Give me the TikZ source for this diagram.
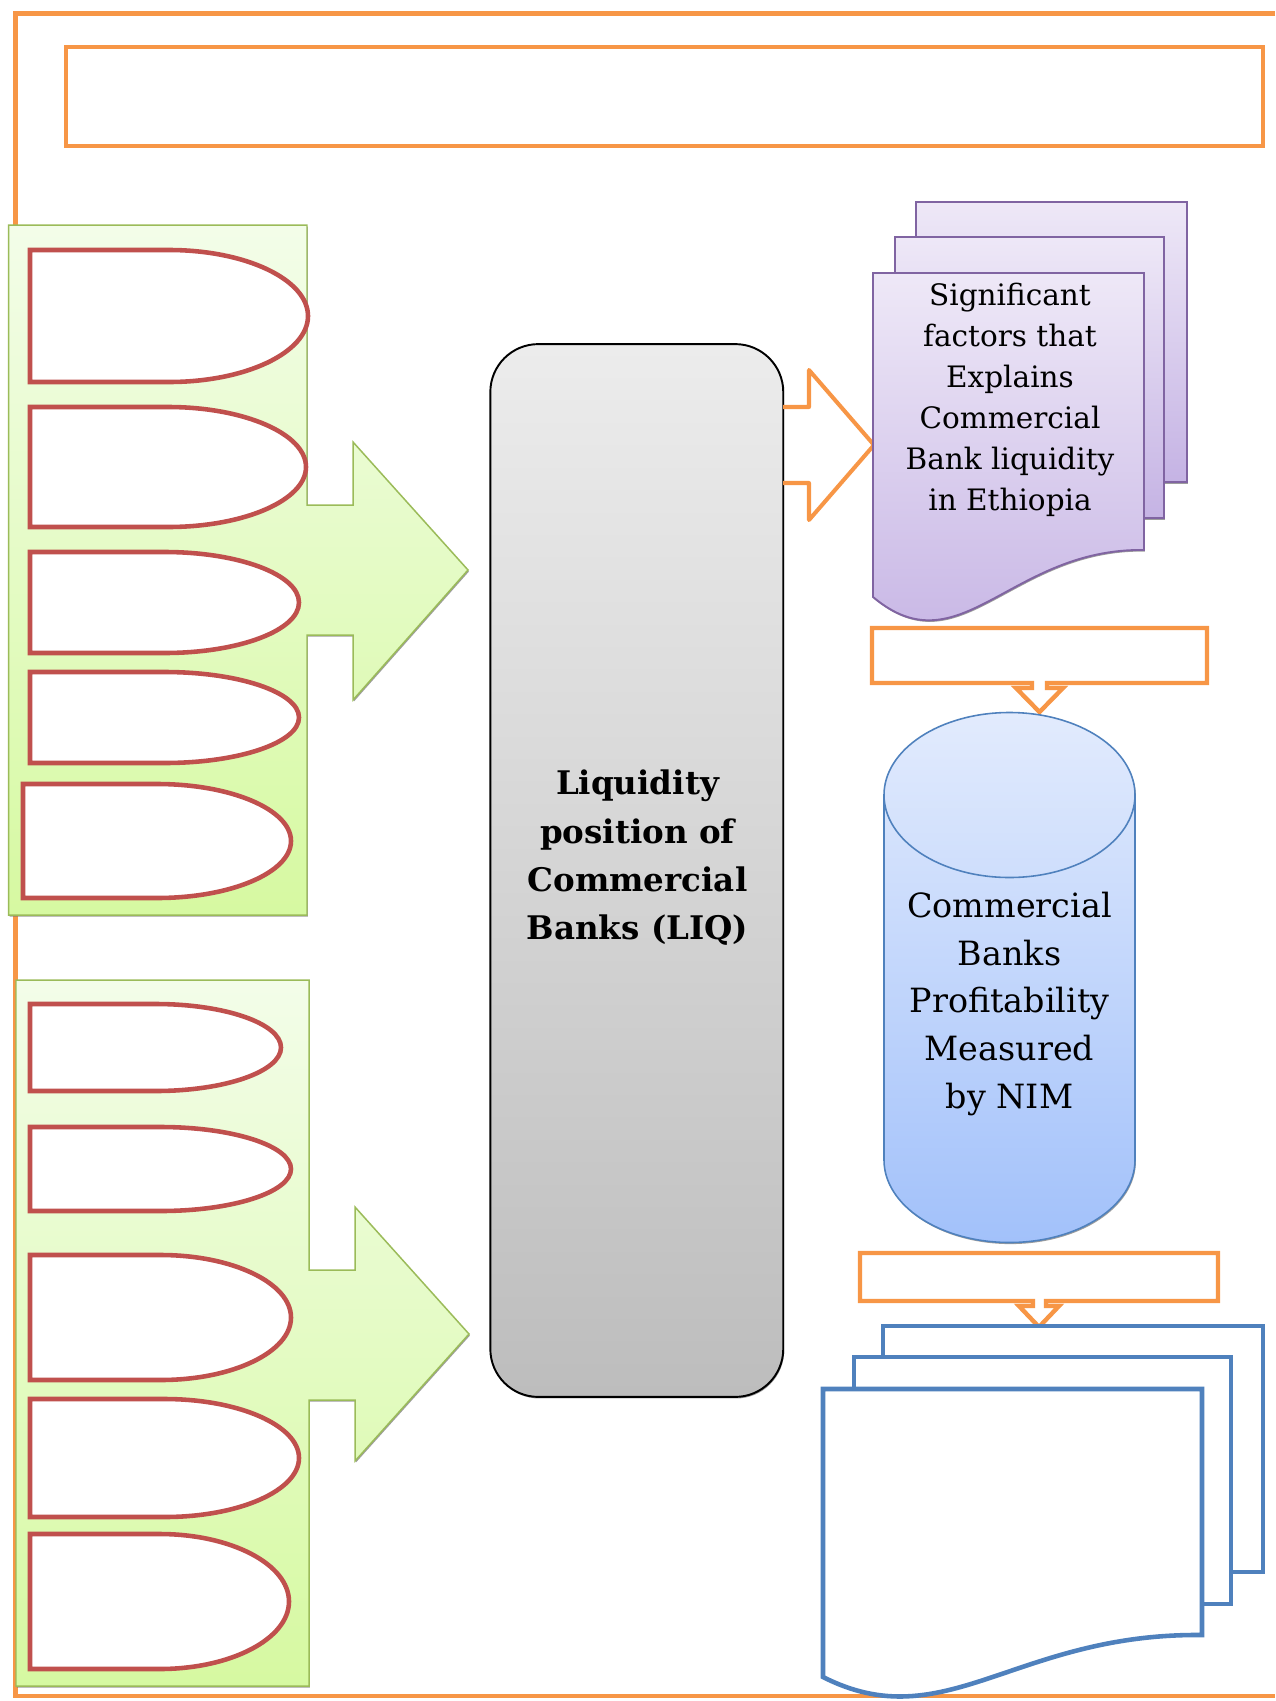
\documentclass[tikz,border=0pt]{standalone}
\usepackage{fontspec}
\setmainfont{DejaVu Serif}
\usetikzlibrary{shadows}

\definecolor{frameorange}{RGB}{247,150,70}
\definecolor{factorred}{RGB}{192,80,77}
\definecolor{panelgreen}{RGB}{155,187,89}
\definecolor{greentop}{RGB}{243,253,233}
\definecolor{greenbot}{RGB}{214,249,161}
\definecolor{docpurple}{RGB}{128,100,162}
\definecolor{purptop}{RGB}{238,232,247}
\definecolor{purpbot}{RGB}{197,179,228}
\definecolor{nimblue}{RGB}{79,129,189}
\definecolor{bluetop}{RGB}{226,235,253}
\definecolor{bluebot}{RGB}{162,193,250}
\definecolor{liqtop}{RGB}{236,236,236}
\definecolor{liqbot}{RGB}{189,189,189}

% one factor slot: straight left half, half-ellipse right end
\newcommand\factorslot[5]{%
  \pgfmathsetmacro\fsxm{(#2+#4)/2}%
  \pgfmathsetmacro\fsym{(#3+#5)/2}%
  \pgfmathsetmacro\fskx{\fsxm+0.5523*(#4-#2)/2}%
  \pgfmathsetmacro\fsky{0.5523*(#5-#3)/2}%
  \draw[slotline] (#2,#3) -- (\fsxm,#3)
     .. controls (\fskx,#3) and (#4,\fsym-\fsky) .. (#4,\fsym)
     .. controls (#4,\fsym+\fsky) and (\fskx,#5) .. (\fsxm,#5)
     -- (#2,#5) -- cycle;
  \coordinate (#1) at (\fsxm,\fsym);
}

\tikzset{
  softshadow/.style={drop shadow={shadow xshift=0.5pt, shadow yshift=-0.9pt,
      fill=black!55, opacity=0.7}},
  frameline/.style={draw=frameorange, line width=2.3pt},
  calloutline/.style={draw=frameorange, fill=white, line width=2.5pt, line join=miter},
  greenpanel/.style={draw=panelgreen, line width=0.85pt, top color=greentop,
      bottom color=greenbot, softshadow},
  slotline/.style={draw=factorred, fill=white, line width=2.6pt},
  liqbox/.style={draw=black, line width=1.1pt, rounded corners=0.96cm,
      top color=liqtop, bottom color=liqbot, minimum width=5.86cm,
      minimum height=21.06cm, inner sep=0pt, softshadow},
  purplesheet/.style={draw=docpurple, line width=1.1pt, top color=purptop,
      bottom color=purpbot, softshadow},
  bluesheet/.style={draw=nimblue, line width=2.6pt, fill=white},
  cylbody/.style={draw=nimblue, line width=0.9pt, top color=bluetop,
      bottom color=bluebot, softshadow},
  blockarrow/.style={draw=frameorange, line width=2.3pt, line join=round},
}

\begin{document}
\begin{tikzpicture}[x=0.02cm, y=-0.02cm]
\useasboundingbox (0,0) rectangle (1275,1701);

% outer frame (open on the right) and title box
\draw[frameline] (1275,13.5) -- (15.5,13.5) -- (15.5,1696) -- (1275,1696);
\draw[frameline, line width=2.6pt] (66,47) rectangle (1263,146);

% upper group of factors with its arrow
\draw[greenpanel] (8.7,225) -- (307,225) -- (307,505) -- (353,505) -- (353,442)
  -- (468,570) -- (353,700) -- (353,635) -- (307,635) -- (307,915) -- (8.7,915) -- cycle;
\factorslot{fa1}{30}{250}{308}{382}
\factorslot{fa2}{30}{407}{306}{527}
\factorslot{fa3}{30}{552}{299}{653}
\factorslot{fa4}{30}{672}{299}{763}
\factorslot{fa5}{23}{784}{291}{898}

% lower group of factors with its arrow
\draw[greenpanel] (16,980) -- (309,980) -- (309,1270) -- (355,1270) -- (355,1207)
  -- (469,1334) -- (355,1461) -- (355,1400) -- (309,1400) -- (309,1686) -- (16,1686) -- cycle;
\factorslot{fb1}{30}{1004}{281}{1091}
\factorslot{fb2}{30}{1127}{291}{1211}
\factorslot{fb3}{30}{1255}{291}{1380}
\factorslot{fb4}{30}{1399}{299}{1517}
\factorslot{fb5}{30}{1534}{289}{1669}

% central liquidity box
\node[liqbox] (liq) at (636.8,870.5) {};
\node[font=\bfseries\fontsize{18.5}{27.5}\selectfont, align=center] (liqtext)
  at (637.5,858) {Liquidity\\position of\\Commercial\\Banks (LIQ)};

% block arrow from the liquidity box to the findings
\coordinate (arrowtail) at (783,445);
\draw[blockarrow] ([yshift=0.76cm]arrowtail) -- ++(26,0) -- ++(0,-37)
  -- ++(65,75) -- ++(-65,75) -- ++(0,-37) -- ([yshift=-0.76cm]arrowtail);

% stacked findings sheets
\draw[purplesheet] (916,202) rectangle (1187,482);
\draw[purplesheet] (895,237) rectangle (1164,518);
\draw[purplesheet] (873,273) -- (1144,273) -- (1144,550)
  .. controls (1010,548) and (960,670) .. (873,597) -- cycle;
\node[font=\fontsize{16.8}{23.4}\selectfont, align=center] (factors) at (1010,400)
  {Significant\\factors that\\Explains\\Commercial\\Bank liquidity\\in Ethiopia};

% first down callout
\draw[calloutline] (872,628) -- (1207,628) -- (1207,683) -- (1047,683) -- (1047,688)
  -- (1063,688) -- (1039.5,712) -- (1016,688) -- (1032,688) -- (1032,683) -- (872,683) -- cycle;
\coordinate (callout1) at (1039.5,655);

% profitability cylinder
\draw[cylbody] (884,795) -- (884,1160)
  .. controls (884,1205.6) and (940.2,1242.5) .. (1009.5,1242.5)
  .. controls (1078.8,1242.5) and (1135,1205.6) .. (1135,1160)
  -- (1135,795)
  .. controls (1135,749.4) and (1078.8,712.5) .. (1009.5,712.5)
  .. controls (940.2,712.5) and (884,749.4) .. (884,795) -- cycle;
\draw[draw=nimblue, line width=0.9pt] (884,795)
  .. controls (884,840.6) and (940.2,877.5) .. (1009.5,877.5)
  .. controls (1078.8,877.5) and (1135,840.6) .. (1135,795);
\node[font=\fontsize{19}{27.3}\selectfont, align=center] (nim) at (1009.5,1004)
  {Commercial\\Banks\\Profitability\\Measured\\by NIM};

% second down callout
\draw[calloutline] (860,1253) -- (1218,1253) -- (1218,1301) -- (1046,1301) -- (1046,1306)
  -- (1059,1306) -- (1039,1327) -- (1019,1306) -- (1033,1306) -- (1033,1301) -- (860,1301) -- cycle;
\coordinate (callout2) at (1039,1277);

% stacked outcome sheets
\draw[bluesheet] (883,1326) rectangle (1263,1572);
\draw[bluesheet] (854,1357) rectangle (1231,1604);
\draw[bluesheet] (823,1389) -- (1202,1389) -- (1202,1635)
  .. controls (1015,1633) and (945,1739) .. (823,1677) -- cycle;
\end{tikzpicture}
\end{document}
